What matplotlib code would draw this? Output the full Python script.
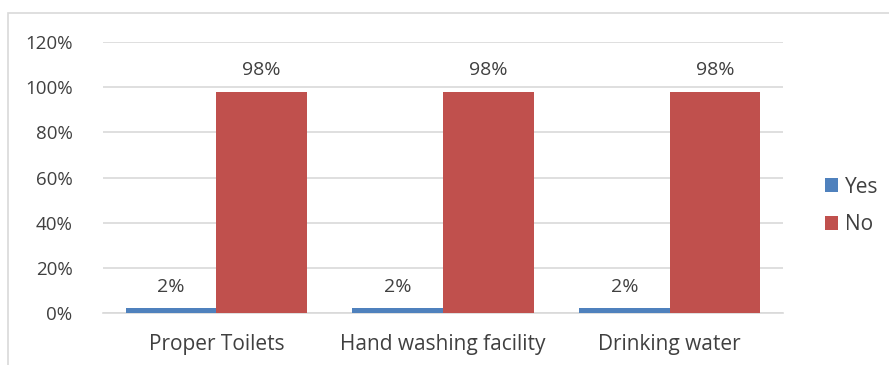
import matplotlib.pyplot as plt
import numpy as np
from matplotlib.patches import Rectangle

categories = ["Proper Toilets", "Hand washing facility", "Drinking water"]
yes_vals = [2, 2, 2]
no_vals = [98, 98, 98]
yticks = [0, 20, 40, 60, 80, 100, 120]

plt.rcParams['font.family'] = ['Open Sans', 'DejaVu Sans']
txt = '#404040'

fig = plt.figure(figsize=(8.89, 3.65), dpi=100)
# chart border (right/bottom fall off the image)
fig.patches.append(Rectangle((8 / 889, -0.05), 1.0, 1 - 13 / 365 + 0.05, transform=fig.transFigure,
                             fill=False, edgecolor='#D9D9D9', linewidth=1.2))

ax = fig.add_axes([103 / 889, 1 - 313 / 365, 680 / 889, 271 / 365])
xPos = np.arange(len(categories))
width = 0.4

rectsYes = ax.bar(xPos - width / 2, yes_vals, width, color='#4F81BD', label='Yes', zorder=3)
rectsNo = ax.bar(xPos + width / 2, no_vals, width, color='#C0504D', label='No', zorder=3)

def autolabel(rects):
    # value label above each bar
    for rect in rects:
        h = rect.get_height()
        ax.annotate("%d%%" % h, (rect.get_x() + rect.get_width() / 2., h), xytext=(0, 12.2),
                    textcoords='offset points', ha='center', va='baseline', fontsize=14, color=txt)

autolabel(rectsYes)
autolabel(rectsNo)

ax.set_xlim(-0.5, 2.5)
ax.set_ylim(0, 120)
ax.set_yticks(yticks)
ax.set_yticklabels(["%d%%" % v for v in yticks])
ax.set_xticks(xPos)
ax.set_xticklabels(categories)
ax.yaxis.grid(True, color='#D9D9D9', linewidth=1.2, zorder=0)
for s in ['top', 'right', 'left']:
    ax.spines[s].set_visible(False)
ax.spines['bottom'].set_color('#D9D9D9')
ax.spines['bottom'].set_linewidth(1.2)
ax.tick_params(axis='both', length=0, labelcolor=txt)
ax.tick_params(axis='y', pad=22, labelsize=13.5)
ax.tick_params(axis='x', pad=15, labelsize=15)

ax.legend(loc='center left', bbox_to_anchor=(806 / 889, 1 - 206 / 365), bbox_transform=fig.transFigure,
          frameon=False, fontsize=15, handlelength=0.65, handleheight=0.65, handletextpad=0.3,
          labelspacing=0.8, labelcolor=txt)

fig.savefig("out.png", dpi=100)
